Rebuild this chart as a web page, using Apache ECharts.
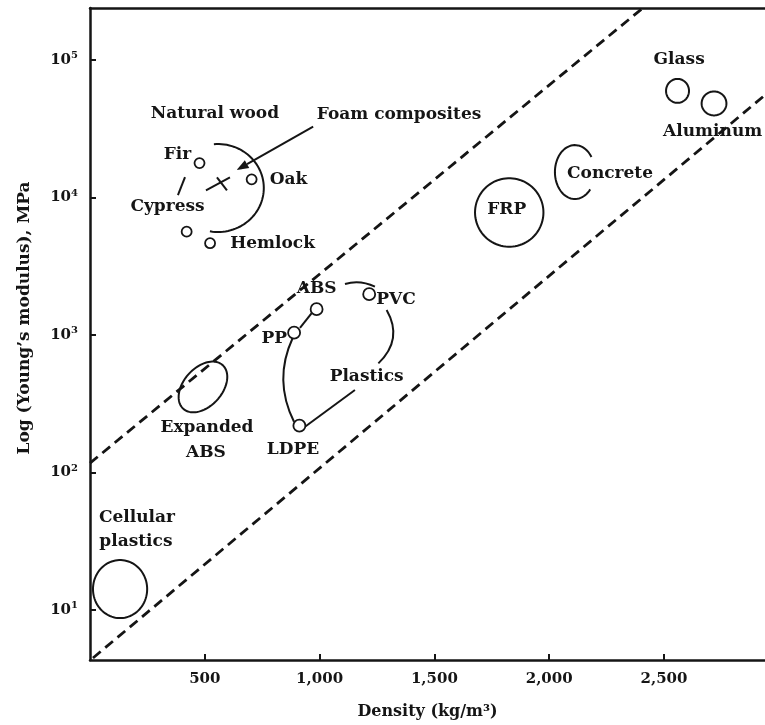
<!DOCTYPE html>
<html><head><meta charset="utf-8">
<script src="https://cdn.jsdelivr.net/npm/echarts@6/dist/echarts.min.js"></script>
<style>html,body{margin:0;padding:0;background:#fff}#c{width:765px;height:725px}</style>
</head><body><div id="c"></div>
<script>
const FONT = 'DejaVu Serif';
const INK = '#151515';

// axis ticks
const xTicks = [500, 1000, 1500, 2000, 2500];
const yTicks = [10, 100, 1000, 10000, 100000];

// individual materials [density kg/m3, modulus MPa]
const woodNames = ['Fir', 'Oak', 'Cypress', 'Hemlock'];
const woodPoints = [[477, 17800], [704, 13550], [421, 5640], [523, 4650]];
const plasticNames = ['ABS', 'PP', 'LDPE', 'PVC'];
const plasticPoints = [[987, 1540], [889, 1040], [912, 219], [1216, 1980]];
const foamComposite = [[566, 12680]];

// material regions: [density, modulus, density half-range, decade half-range, tilt deg]
const regionNames = ['Cellular plastics', 'Expanded ABS', 'FRP', 'Glass', 'Aluminum'];
const regions = [
  [131, 14.2, 118, 0.211, 0],
  [492, 419, 128, 0.14, 48],
  [1826, 7780, 149, 0.249, 0],
  [2559, 59600, 50, 0.087, 0],
  [2718, 48300, 54, 0.087, 0]
];

// open group outlines: [density, modulus, density half-range, decade half-range, start deg, end deg]
const groupNames = ['Natural wood', 'Concrete'];
const groupArcs = [
  [557, 11720, 200, 0.32, 95, -100],
  [2112, 15310, 87, 0.196, 34, 320]
];

// connectors (2 points = straight, 3 points = curve through control)
const connectors = [
  [[914.6, 1125], [965.6, 1445]],
  [[882.8, 951], [798.1, 470], [888.5, 234]],
  [[936.4, 215], [1154, 398]],
  [[1292, 1520], [1365, 929], [1256, 622]],
  [[1110.6, 2350], [1176, 2530], [1241, 2245]],
  [[383, 10420], [413.8, 14090]]
];
const foamArrow = [[972, 32700], [638.5, 15850]];

// dashed bounds
const upperBound = [[0, 117], [2408, 238800]];
const lowerBound = [[13, 4.48], [2940, 55600]];

// annotation texts and anchors
const labelTexts = ['Natural wood', 'Foam composites', 'Fir', 'Oak', 'Cypress', 'Hemlock', 'ABS', 'PVC', 'PP', 'Plastics', 'LDPE', 'Expanded', 'ABS', 'Cellular', 'plastics', 'FRP', 'Concrete', 'Glass', 'Aluminum'];
const labelAt = [[544, 40900], [1346, 39800], [381, 20400], [865, 13400], [337.5, 8570], [795, 4650], [987, 2190], [1333, 1800], [803, 946], [1205, 498], [884, 146], [509.6, 211], [505, 139], [204.7, 47.4], [200, 31.3], [1815, 8110], [2265, 15000], [2566, 100000], [2712, 30100]];

const chart = echarts.init(document.getElementById('c'), null, {renderer: 'canvas'});

function ellipsePts(api, v, t0, t1, n) {
  const c = api.coord([v[0], v[1]]);
  const px = api.coord([v[0] + v[2], v[1]]);
  const py = api.coord([v[0], v[1] * Math.pow(10, v[3])]);
  const rx = px[0] - c[0], ry = c[1] - py[1];
  const th = (v[4] || 0) * Math.PI / 180;
  const pts = [];
  for (let i = 0; i <= n; i++) {
    const t = (t0 + (t1 - t0) * i / n) * Math.PI / 180;
    const u = rx * Math.cos(t), w = ry * Math.sin(t);
    const u2 = u * Math.cos(th) - w * Math.sin(th);
    const w2 = u * Math.sin(th) + w * Math.cos(th);
    pts.push([c[0] + u2, c[1] - w2]);
  }
  return pts;
}

const lineStyle = {stroke: INK, lineWidth: 2, fill: null};

const option = {
  backgroundColor: '#fff',
  animation: false,
  grid: {left: 90, right: 0, top: 8, bottom: 65, containLabel: false, outerBoundsMode: 'none'},
  xAxis: [{
    type: 'value', min: 0, max: 2940, position: 'bottom',
    axisLine: {show: true, onZero: false, lineStyle: {color: INK, width: 2.5}},
    axisTick: {show: true, inside: true, length: 6, customValues: xTicks, lineStyle: {color: INK, width: 2}},
    axisLabel: {customValues: xTicks, margin: 12, color: INK, fontFamily: FONT, fontWeight: 'bold', fontSize: 15,
      formatter: v => Number(v).toLocaleString('en-US')},
    splitLine: {show: false},
    name: 'Density (kg/m³)', nameLocation: 'middle', nameGap: 44,
    nameTextStyle: {color: INK, fontFamily: FONT, fontWeight: 'bold', fontSize: 16}
  }, {
    type: 'value', min: 0, max: 2940, position: 'top',
    axisLine: {show: true, onZero: false, lineStyle: {color: INK, width: 2.5}},
    axisTick: {show: false}, axisLabel: {show: false}, splitLine: {show: false}
  }],
  yAxis: {
    type: 'log', logBase: 10, min: 4.33, max: 238800,
    axisLine: {show: true, onZero: false, lineStyle: {color: INK, width: 2.5}},
    axisTick: {show: true, inside: true, length: 6, customValues: yTicks, lineStyle: {color: INK, width: 2}},
    minorTick: {show: false},
    axisLabel: {customValues: yTicks, margin: 12, color: INK, fontFamily: FONT, fontWeight: 'bold', fontSize: 15,
      formatter: v => '10{s|' + Math.round(Math.log10(v)) + '}',
      rich: {s: {fontSize: 10, fontFamily: FONT, fontWeight: 'bold', color: INK, padding: [0, 0, 9, 0]}}},
    splitLine: {show: false},
    name: 'Log (Young’s modulus), MPa', nameLocation: 'middle', nameGap: 57,
    nameTextStyle: {color: INK, fontFamily: FONT, fontWeight: 'bold', fontSize: 17, padding: [0, 0, 0, 32]}
  },
  series: [
    {type: 'line', data: upperBound, symbol: 'none', silent: true, clip: true,
      lineStyle: {color: INK, width: 2.8, type: [10, 6]}},
    {type: 'line', data: lowerBound, symbol: 'none', silent: true, clip: true,
      lineStyle: {color: INK, width: 2.8, type: [10, 6]}},
    {type: 'custom', name: 'regions', data: regions, silent: true,
      renderItem: (p, api) => {
        const v = [0, 1, 2, 3, 4].map(i => api.value(i));
        return {type: 'polygon', shape: {points: ellipsePts(api, v, 0, 360, 90)}, style: {stroke: INK, lineWidth: 2, fill: null}};
      }},
    {type: 'custom', name: 'groups', data: groupArcs, silent: true,
      renderItem: (p, api) => {
        const v = [0, 1, 2, 3].map(i => api.value(i));
        v.push(0);
        return {type: 'polyline', shape: {points: ellipsePts(api, v, api.value(4), api.value(5), 60)}, style: lineStyle};
      }},
    {type: 'custom', name: 'connectors', data: connectors.map((c, i) => [i, 1]), silent: true,
      renderItem: (p, api) => {
        const pts = connectors[p.dataIndex].map(q => api.coord(q));
        if (pts.length === 2) {
          return {type: 'line', shape: {x1: pts[0][0], y1: pts[0][1], x2: pts[1][0], y2: pts[1][1]}, style: lineStyle};
        }
        return {type: 'bezierCurve', shape: {x1: pts[0][0], y1: pts[0][1], cpx1: pts[1][0], cpy1: pts[1][1], x2: pts[2][0], y2: pts[2][1]}, style: lineStyle};
      }},
    {type: 'custom', name: 'arrow', data: [[0, 1]], silent: true,
      renderItem: (p, api) => {
        const a = api.coord(foamArrow[0]), b = api.coord(foamArrow[1]);
        const ang = Math.atan2(b[1] - a[1], b[0] - a[0]);
        const L = 12, W = 4.5;
        const bx = b[0] - L * Math.cos(ang), by = b[1] - L * Math.sin(ang);
        const nx = -Math.sin(ang), ny = Math.cos(ang);
        return {type: 'group', children: [
          {type: 'line', shape: {x1: a[0], y1: a[1], x2: bx, y2: by}, style: lineStyle},
          {type: 'polygon', shape: {points: [[b[0], b[1]], [bx + nx * W, by + ny * W], [bx - nx * W, by - ny * W]]}, style: {fill: INK}}
        ]};
      }},
    {type: 'custom', name: 'Foam composites', data: foamComposite, silent: true,
      renderItem: (p, api) => {
        const c = api.coord([api.value(0), api.value(1)]);
        return {type: 'group', x: c[0], y: c[1], children: [
          {type: 'line', shape: {x1: -14, y1: 7, x2: 10, y2: -6}, style: lineStyle},
          {type: 'line', shape: {x1: -3, y1: -6, x2: 7, y2: 7}, style: lineStyle}
        ]};
      }},
    {type: 'scatter', name: 'Natural wood', data: woodPoints, symbol: 'circle', symbolSize: 10, silent: true,
      itemStyle: {color: '#fff', borderColor: INK, borderWidth: 1.8, opacity: 1}},
    {type: 'scatter', name: 'Plastics', data: plasticPoints, symbol: 'circle', symbolSize: 12, silent: true,
      itemStyle: {color: '#fff', borderColor: INK, borderWidth: 1.8, opacity: 1}},
    {type: 'custom', name: 'labels', data: labelAt, silent: true,
      renderItem: (p, api) => {
        const c = api.coord([api.value(0), api.value(1)]);
        return {type: 'text', x: c[0], y: c[1], style: {text: labelTexts[p.dataIndex], fontFamily: FONT, fontWeight: 'bold', fontSize: 17, fill: INK, align: 'center', verticalAlign: 'middle'}};
      }}
  ]
};
chart.setOption(option);
</script>
</body></html>
